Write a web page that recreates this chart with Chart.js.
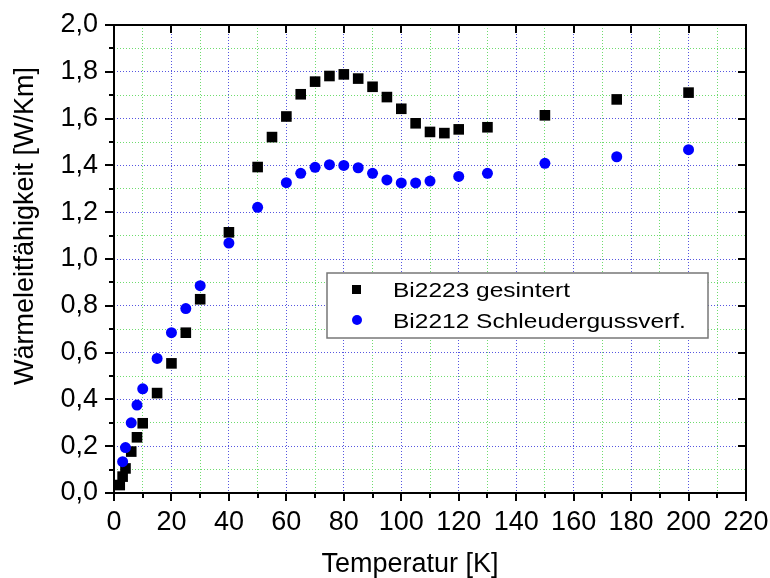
<!DOCTYPE html>
<html>
<head>
<meta charset="utf-8">
<title>Wärmeleitfähigkeit</title>
<script src="https://cdn.jsdelivr.net/npm/chart.js@4/dist/chart.umd.min.js"></script>
<style>
  html, body { margin: 0; padding: 0; background: #fff; overflow: hidden; }
  canvas { display: block; }
</style>
</head>
<body>
<canvas id="grafik" width="770" height="578"></canvas>
<script>
// 1. Messwerte: Temperatur [K] und Wärmeleitfähigkeit [W/Km]
const tempBi2223 = [2, 3, 4, 6, 8, 10, 15, 20, 25, 30, 40, 50, 55, 60, 65, 70, 75, 80, 85, 90,
                    95, 100, 105, 110, 115, 120, 130, 150, 175, 200];
const lambdaBi2223 = [0.034, 0.07, 0.105, 0.177, 0.238, 0.298, 0.427, 0.554, 0.685, 0.828,
                      1.114, 1.393, 1.521, 1.609, 1.704, 1.758, 1.782, 1.789, 1.771, 1.736,
                      1.692, 1.642, 1.58, 1.543, 1.538, 1.554, 1.563, 1.614, 1.682, 1.711];

const tempBi2212 = [3, 4, 6, 8, 10, 15, 20, 25, 30, 40, 50, 60, 65, 70, 75, 80, 85, 90,
                    95, 100, 105, 110, 120, 130, 150, 175, 200];
const lambdaBi2212 = [0.134, 0.194, 0.300, 0.376, 0.445, 0.575, 0.685, 0.788, 0.886, 1.068,
                      1.221, 1.326, 1.366, 1.392, 1.403, 1.400, 1.390, 1.366, 1.338, 1.325,
                      1.325, 1.333, 1.353, 1.366, 1.409, 1.437, 1.467];

const nameBi2223 = 'Bi2223 gesintert';
const nameBi2212 = 'Bi2212 Schleudergussverf.';
const titelX = 'Temperatur [K]';
const titelY = 'Wärmeleitfähigkeit [W/Km]';

// Achsenbereich
const xMin = 0, xMax = 220, xSchritt = 10;
const yMin = 0, yMax = 2.0, ySchritt = 0.1;

const schrift = "'Liberation Sans', Arial, sans-serif";
const blauGitter = '#5656e0';
const gruenGitter = '#6edc6e';

function punkte(xs, ys) {
    return xs.map(function(x, i) { return { x: x, y: ys[i] }; });
}

// 2. Rahmen, Striche, Achsentitel und Legende selbst zeichnen
const rahmenPlugin = {
    id: 'rahmen',
    afterDraw(chart) {
        const ctx = chart.ctx;
        const area = chart.chartArea;
        const sx = chart.scales.x;
        const sy = chart.scales.y;

        ctx.save();
        ctx.strokeStyle = '#000';
        ctx.lineWidth = 2;
        ctx.beginPath();
        for (let v = xMin; v <= xMax; v += xSchritt) {
            const px = Math.round(sx.getPixelForValue(v));
            const gross = v % 20 === 0;
            ctx.moveTo(px, area.bottom);
            ctx.lineTo(px, area.bottom + (gross ? 8 : 5));
            if (gross) {
                ctx.moveTo(px, area.top);
                ctx.lineTo(px, area.top + 8);
            }
        }
        for (let i = 0; i <= 20; i++) {
            const py = Math.round(sy.getPixelForValue(i * ySchritt));
            const gross = i % 2 === 0;
            ctx.moveTo(area.left, py);
            ctx.lineTo(area.left - (gross ? 9 : 5), py);
            if (gross) {
                ctx.moveTo(area.right, py);
                ctx.lineTo(area.right - 8, py);
            }
        }
        ctx.stroke();
        ctx.strokeRect(area.left, area.top, area.right - area.left, area.bottom - area.top);

        // Achsentitel
        ctx.fillStyle = '#000';
        ctx.font = '27px ' + schrift;
        ctx.textAlign = 'center';
        ctx.textBaseline = 'alphabetic';
        ctx.fillText(titelX, 410, 572);
        ctx.save();
        ctx.translate(33, 226);
        ctx.rotate(-Math.PI / 2);
        ctx.fillText(titelY, 0, 0);
        ctx.restore();

        // Legende
        const lx = 327, ly = 273, lw = 381, lh = 65;
        ctx.fillStyle = '#fff';
        ctx.fillRect(lx, ly, lw, lh);
        ctx.strokeStyle = '#777';
        ctx.lineWidth = 1.5;
        ctx.strokeRect(lx, ly, lw, lh);

        const ds = chart.data.datasets;
        ctx.fillStyle = ds[1].backgroundColor;
        ctx.fillRect(lx + 25, ly + 12, 9, 9);
        ctx.fillStyle = ds[0].backgroundColor;
        ctx.beginPath();
        ctx.arc(lx + 30, ly + 47, 5, 0, Math.PI * 2);
        ctx.fill();

        ctx.fillStyle = '#000';
        ctx.font = '24.5px ' + schrift;
        ctx.textAlign = 'left';
        [[ds[1].label, ly + 24], [ds[0].label, ly + 55]].forEach(function(z) {
            ctx.save();
            ctx.translate(lx + 66, z[1]);
            ctx.scale(1, 0.8);
            ctx.fillText(z[0], 0, 0);
            ctx.restore();
        });
        ctx.restore();
    }
};

function gitterFarbe(schritt) {
    return function(c) {
        if (!c.tick) return gruenGitter;
        const n = Math.round(c.tick.value / schritt);
        return n % 2 === 0 ? blauGitter : gruenGitter;
    };
}

// Abstand Achse -> Beschriftung über unsichtbare Tick-Länge,
// damit ticks.padding nicht den Plotbereich verkleinert
const gitterBasis = {
    drawTicks: true,
    tickLength: 16,
    tickColor: 'rgba(0,0,0,0)',
    lineWidth: 1
};

// 3. Diagramm
const grafik = new Chart(document.getElementById('grafik'), {
    type: 'scatter',
    data: {
        datasets: [
            {
                label: nameBi2212,
                data: punkte(tempBi2212, lambdaBi2212),
                pointStyle: 'circle',
                pointRadius: 5.5,
                backgroundColor: '#0000ff',
                borderColor: '#0000ff',
                borderWidth: 0,
                order: 0
            },
            {
                label: nameBi2223,
                data: punkte(tempBi2223, lambdaBi2223),
                pointStyle: 'rect',
                pointRadius: 7.5,
                backgroundColor: '#000',
                borderColor: '#000',
                borderWidth: 0,
                order: 1
            }
        ]
    },
    options: {
        responsive: false,
        animation: false,
        devicePixelRatio: 1,
        layout: { padding: { top: 25, right: 24, left: 0, bottom: 0 } },
        plugins: {
            legend: { display: false },
            tooltip: { enabled: false }
        },
        scales: {
            x: {
                type: 'linear',
                min: xMin,
                max: xMax,
                afterFit: function(scale) { scale.height = 85; },
                ticks: {
                    stepSize: xSchritt,
                    autoSkip: false,
                    maxRotation: 0,
                    padding: 0,
                    color: '#000',
                    font: { family: schrift, size: 27, lineHeight: 1 },
                    callback: function(v) { return v % 20 === 0 ? String(v) : ''; }
                },
                grid: Object.assign({ color: gitterFarbe(xSchritt) }, gitterBasis),
                border: { display: false, dash: [1, 2] }
            },
            y: {
                type: 'linear',
                min: yMin,
                max: yMax,
                afterFit: function(scale) { scale.width = 114; },
                ticks: {
                    stepSize: ySchritt,
                    autoSkip: false,
                    padding: 0,
                    color: '#000',
                    font: { family: schrift, size: 27, lineHeight: 1 },
                    callback: function(v) {
                        const n = Math.round(v / ySchritt);
                        return n % 2 === 0 ? (n / 10).toFixed(1).replace('.', ',') : '';
                    }
                },
                grid: Object.assign({ color: gitterFarbe(ySchritt) }, gitterBasis),
                border: { display: false, dash: [1, 2] }
            }
        }
    },
    plugins: [rahmenPlugin]
});
</script>
</body>
</html>
